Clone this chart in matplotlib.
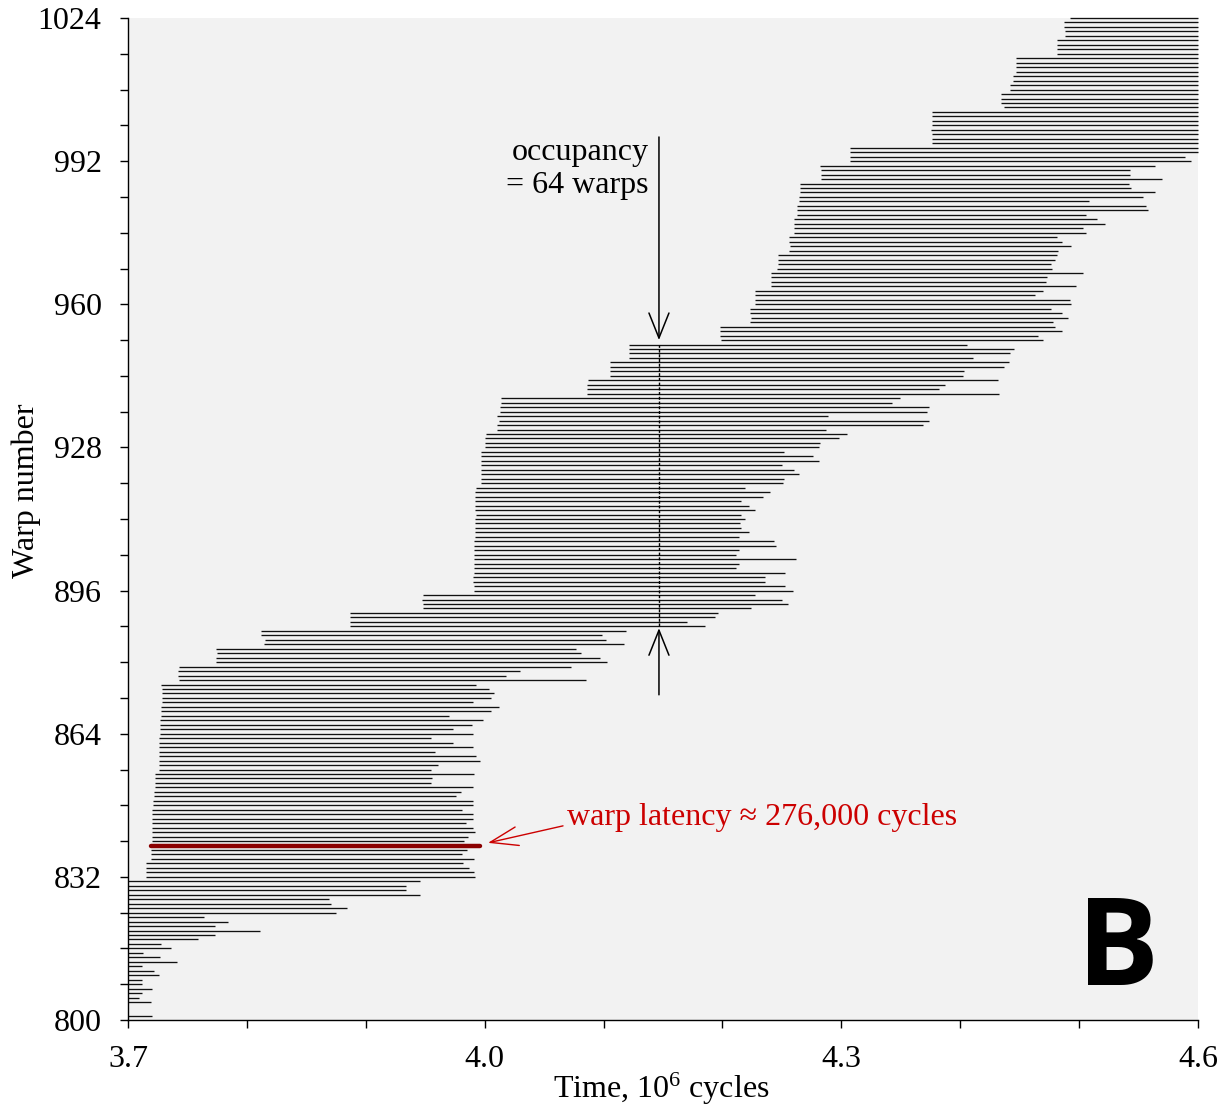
import matplotlib
matplotlib.use("Agg")
import matplotlib.pyplot as plt
import numpy as np

plt.rcParams['font.family'] = ['Liberation Serif', 'DejaVu Serif']
plt.rcParams['mathtext.fontset'] = 'custom'
plt.rcParams['mathtext.rm'] = 'Liberation Serif'
plt.rcParams['mathtext.it'] = 'Liberation Serif:italic'

# ---- data (time in 10^6 cycles) ----
warps = [801] + list(range(804, 1025))

starts = (
    [3.700] * 29 +                                             # 801, 804-831 (clipped)
    [3.715, 3.715, 3.715, 3.715, 3.719, 3.719, 3.719, 3.719,  # 832-839
     3.720, 3.720, 3.720, 3.720, 3.720, 3.720, 3.720, 3.720,  # 840-847
     3.721, 3.721, 3.722, 3.722, 3.723, 3.723, 3.723, 3.723,  # 848-855
     3.726, 3.726, 3.726, 3.726, 3.726, 3.726, 3.726, 3.726,  # 856-863
     3.727, 3.727, 3.727, 3.727, 3.728, 3.728, 3.728, 3.729,  # 864-871
     3.729, 3.729, 3.729, 3.728, 3.743, 3.742, 3.742, 3.743,  # 872-879
     3.774, 3.774, 3.775, 3.774, 3.814, 3.815, 3.812, 3.812,  # 880-887
     3.887, 3.887, 3.887, 3.887, 3.948, 3.948, 3.947, 3.948,  # 888-895
     3.991, 3.991, 3.990, 3.990, 3.991, 3.991, 3.991, 3.991,  # 896-903
     3.991, 3.991, 3.991, 3.991, 3.992, 3.992, 3.992, 3.992,  # 904-911
     3.992, 3.993, 3.992, 3.992, 3.992, 3.992, 3.992, 3.993,  # 912-919
     3.997, 3.997, 3.997, 3.997, 3.997, 3.997, 3.997, 3.997,  # 920-927
     4.000, 4.000, 4.000, 4.001, 4.010, 4.010, 4.012, 4.010,  # 928-935
     4.013, 4.013, 4.014, 4.014, 4.086, 4.086, 4.086, 4.087,  # 936-943
     4.105, 4.105, 4.105, 4.105, 4.121, 4.121, 4.121, 4.121,  # 944-951
     4.199, 4.198, 4.198, 4.198, 4.223, 4.224, 4.223, 4.223,  # 952-959
     4.227, 4.227, 4.227, 4.227, 4.241, 4.241, 4.241, 4.241,  # 960-967
     4.246, 4.247, 4.247, 4.247, 4.256, 4.257, 4.256, 4.256,  # 968-975
     4.260, 4.260, 4.260, 4.260, 4.263, 4.263, 4.263, 4.264,  # 976-983
     4.264, 4.265, 4.265, 4.265, 4.283, 4.283, 4.283, 4.282,  # 984-991
     4.307, 4.307, 4.307, 4.307, 4.376, 4.376, 4.376, 4.375,  # 992-999
     4.376, 4.376, 4.376, 4.376, 4.437, 4.434, 4.434, 4.434,  # 1000-1007
     4.442, 4.442, 4.444, 4.444, 4.447, 4.447, 4.447, 4.447,  # 1008-1015
     4.481, 4.481, 4.481, 4.481, 4.488, 4.488, 4.487, 4.487,  # 1016-1023
     4.492]                                                    # 1024
)

ends = (
    [3.720, 3.719, 3.709, 3.712, 3.720, 3.712, 3.712, 3.726,  # 801, 804-810
     3.722, 3.712, 3.741, 3.727, 3.713, 3.736, 3.728, 3.759,  # 811-818
     3.773, 3.811, 3.773, 3.784, 3.764, 3.875, 3.884, 3.871,  # 819-826
     3.869, 3.946, 3.934, 3.934, 3.946,                       # 827-831
     3.992, 3.991, 3.987, 3.982, 3.991, 3.981, 3.985, 3.996,  # 832-839
     3.983, 3.986, 3.992, 3.990, 3.984, 3.990, 3.990, 3.981,  # 840-847
     3.990, 3.990, 3.976, 3.980, 3.990, 3.955, 3.956, 3.991,  # 848-855
     3.955, 3.961, 3.996, 3.993, 3.958, 3.990, 3.973, 3.955,  # 856-863
     3.990, 3.973, 3.989, 3.999, 3.970, 4.005, 4.012, 3.990,  # 864-871
     4.005, 4.008, 4.004, 3.993, 4.085, 4.018, 4.030, 4.073,  # 872-879
     4.103, 4.097, 4.081, 4.077, 4.117, 4.102, 4.099, 4.119,  # 880-887
     4.185, 4.170, 4.194, 4.196, 4.224, 4.255, 4.250, 4.227,  # 888-895
     4.259, 4.253, 4.236, 4.236, 4.253, 4.211, 4.214, 4.262,  # 896-903
     4.211, 4.214, 4.245, 4.243, 4.214, 4.222, 4.216, 4.215,  # 904-911
     4.219, 4.216, 4.227, 4.222, 4.216, 4.234, 4.240, 4.219,  # 912-919
     4.251, 4.252, 4.264, 4.260, 4.250, 4.281, 4.276, 4.252,  # 920-927
     4.281, 4.282, 4.298, 4.305, 4.287, 4.369, 4.374, 4.289,  # 928-935
     4.372, 4.374, 4.343, 4.349, 4.433, 4.382, 4.387, 4.432,  # 936-943
     4.402, 4.403, 4.437, 4.441, 4.411, 4.442, 4.445, 4.406,  # 944-951
     4.470, 4.465, 4.486, 4.480, 4.478, 4.491, 4.486, 4.476,  # 952-959
     4.493, 4.492, 4.463, 4.470, 4.497, 4.472, 4.473, 4.503,  # 960-967
     4.477, 4.476, 4.480, 4.481, 4.482, 4.493, 4.486, 4.481,  # 968-975
     4.506, 4.503, 4.522, 4.515, 4.506, 4.558, 4.556, 4.508,  # 976-983
     4.554, 4.564, 4.544, 4.542, 4.570, 4.543, 4.543, 4.564,  # 984-991
     4.594, 4.589] +                                          # 992-993
    [4.600] * 31                                              # 994-1024
)

highlight_warp = 839
latency_label = "warp latency \u2248 276,000 cycles"
occupancy_label = "occupancy\n= 64 warps"
occ_time = 4.1466
occ_lo, occ_hi = 888, 951

x_major = [3.7, 4.0, 4.3, 4.6]
x_labels = ["3.7", "4.0", "4.3", "4.6"]
y_major = [800, 832, 864, 896, 928, 960, 992, 1024]

FS = 23

# ---- figure ----
fig = plt.figure(figsize=(12.28, 11.08), dpi=100)
ax = fig.add_axes([128/1228, 1 - 1020/1108, 1070/1228, 1002/1108])
ax.set_facecolor('#f2f2f2')

ax.hlines(warps, starts, ends, colors='#111111', linewidth=0.95, clip_on=False, zorder=2)

hi = warps.index(highlight_warp)
ax.hlines(highlight_warp, starts[hi], ends[hi], colors='#8b0000',
          linewidth=3.2, zorder=3, capstyle='round')

# occupancy dashed line & arrows
ax.vlines(occ_time, occ_lo, occ_hi, colors='black', linewidth=1.0,
          linestyles=(0, (2.2, 1.2)), zorder=4)
ax.annotate('', xy=(occ_time, 952.0), xytext=(occ_time, 997.4),
            arrowprops=dict(arrowstyle='->,head_length=0.45,head_width=0.18',
                            mutation_scale=40, lw=1.1, color='black',
                            shrinkA=0, shrinkB=0))
ax.annotate('', xy=(occ_time, 887.6), xytext=(occ_time, 872.7),
            arrowprops=dict(arrowstyle='->,head_length=0.45,head_width=0.18',
                            mutation_scale=40, lw=1.1, color='black',
                            shrinkA=0, shrinkB=0))
ax.text(4.138, 990.3, occupancy_label, ha='right', va='center',
        fontsize=FS, linespacing=1.2)

# latency annotation
ax.annotate('', xy=(4.0028, 839.6), xytext=(4.0659, 843.4),
            arrowprops=dict(arrowstyle='->,head_length=0.5,head_width=0.17',
                            mutation_scale=40, lw=1.0, color='#cc0000',
                            shrinkA=0, shrinkB=0))
ax.text(4.0693, 845.2, latency_label, ha='left', va='center',
        fontsize=FS, color='#cc0000')

ax.text(0.925, 0.035, 'B', transform=ax.transAxes, ha='center', va='baseline',
        fontsize=88, fontweight='bold', family=['Open Sans', 'DejaVu Sans'])

# axes styling
ax.set_xlim(3.7, 4.6)
ax.set_ylim(800, 1024)
ax.set_xticks(x_major)
ax.set_xticklabels(x_labels)
ax.set_xticks(np.arange(3.8, 4.6, 0.1), minor=True)
ax.set_yticks(y_major)
ax.set_yticks(np.arange(800, 1025, 8), minor=True)
ax.tick_params(which='both', direction='out', length=6, width=1.0,
               labelsize=FS, color='black')
ax.tick_params(axis='y', which='major', pad=13)
ax.tick_params(axis='x', which='major', pad=12)
for s in ['top', 'right']:
    ax.spines[s].set_visible(False)
for s in ['left', 'bottom']:
    ax.spines[s].set_linewidth(1.0)

ax.set_ylabel('Warp number', fontsize=FS)
ax.yaxis.set_label_coords(-0.0815, 0.528)
ax.set_xlabel(r'Time, 10$^{6}$ cycles', fontsize=FS)
ax.xaxis.set_label_coords(0.498, -0.051)

fig.savefig('out.png', dpi=100, facecolor='white')
